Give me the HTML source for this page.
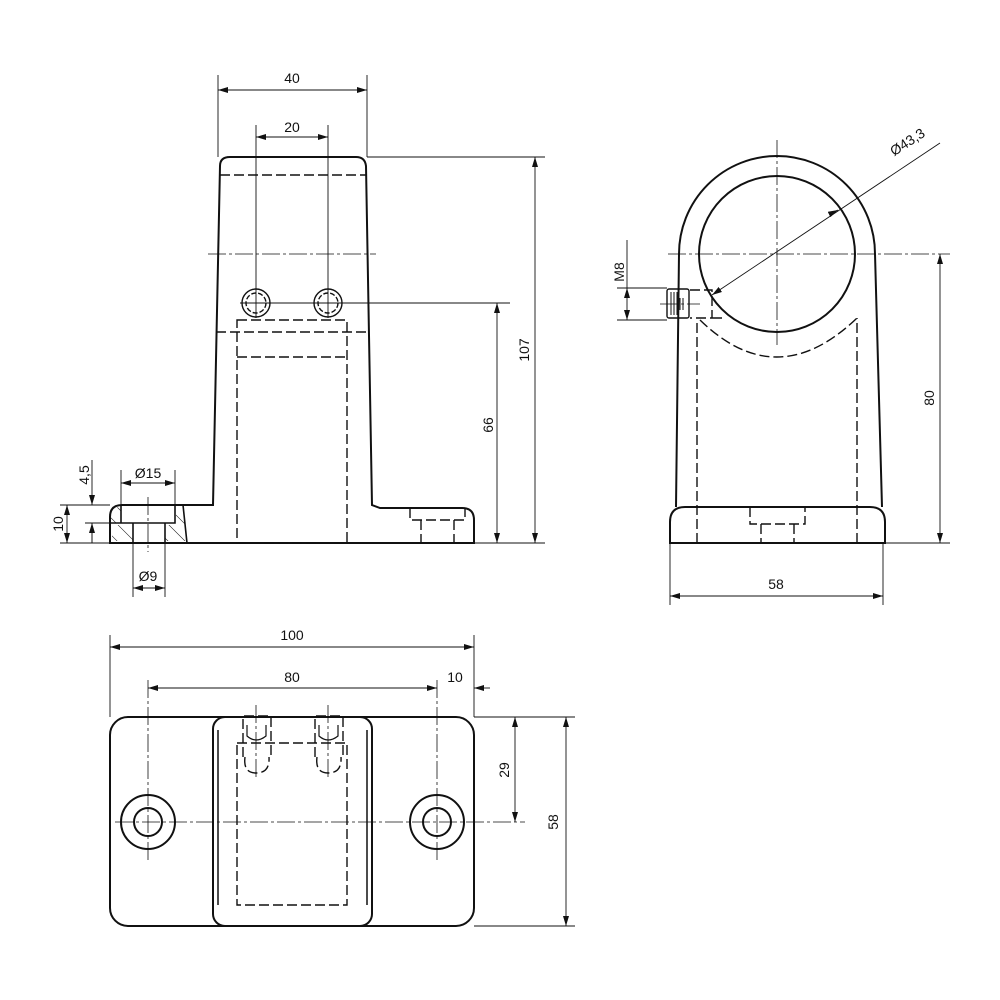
<!DOCTYPE html>
<html><head><meta charset="utf-8"><style>body{margin:0;background:#fff}svg{display:block}text{font-family:"Liberation Sans",sans-serif;font-size:14px;fill:#111}</style></head><body>
<svg width="1000" height="1000" viewBox="0 0 1000 1000" xmlns="http://www.w3.org/2000/svg">
<defs>
<marker id="a" viewBox="0 0 10 6" refX="10" refY="3" markerWidth="10" markerHeight="6" orient="auto-start-reverse" markerUnits="userSpaceOnUse"><path d="M0,0L10,3L0,6z" fill="#111"/></marker>
<pattern id="h" width="12" height="12" patternUnits="userSpaceOnUse" patternTransform="rotate(-45)"><line x1="0" y1="0" x2="0" y2="12" stroke="#111" stroke-width="1"/></pattern>
</defs>
<g fill="none" stroke="#111">
<!-- FRONT VIEW -->
<g stroke-width="2">
<path d="M213,505 L220,166 Q220,157 230,157 L356,157 Q365,157 366,166 L372,505 L380,508 L462,508 Q474,508 474,520 L474,543 L110,543 L110,517 Q110,505 122,505 L213,505 Z"/>
</g>
<path d="M110,523 L121,523 L121,505 M183,505 L187,543 M133,523 L133,543 M165,523 L165,543 M121,523 L175,523 L175,505" stroke-width="1.6"/>
<path d="M110,523 L121,523 L121,505 L110,512 Z" fill="url(#h)" stroke="none"/>
<path d="M112,525 L133,525 L133,541 L112,541Z" fill="url(#h)" stroke="none"/>
<path d="M165,525 L175,525 L177,506 L183,506 L186,541 L165,541Z" fill="url(#h)" stroke="none"/>
<g stroke-width="1.4" stroke-dasharray="10,4">
<line x1="220" y1="175" x2="366" y2="175"/>
<line x1="216" y1="332" x2="368" y2="332"/>
<rect x="237" y="320" width="110" height="223"/>
<line x1="237" y1="357" x2="347" y2="357"/>
<path d="M410,508 L410,520 L465,520 L465,508 M421,520 L421,543 M454,520 L454,543"/>
</g>
<g stroke-width="0.8" stroke-dasharray="18,3,3,3">
<line x1="208" y1="254" x2="376" y2="254"/>
<line x1="148" y1="497" x2="148" y2="552"/>
</g>
<g stroke-width="1.4">
<circle cx="256" cy="303" r="14"/><circle cx="256" cy="303" r="10" stroke-dasharray="5,2"/>
<circle cx="328" cy="303" r="14"/><circle cx="328" cy="303" r="10" stroke-dasharray="5,2"/>
</g>
<g stroke-width="0.9">
<line x1="218" y1="75" x2="218" y2="157"/><line x1="367" y1="75" x2="367" y2="157"/>
<line x1="218" y1="90" x2="367" y2="90" marker-start="url(#a)" marker-end="url(#a)"/>
<line x1="256" y1="125" x2="256" y2="318"/><line x1="328" y1="125" x2="328" y2="318"/>
<line x1="256" y1="137" x2="328" y2="137" marker-start="url(#a)" marker-end="url(#a)"/>
<line x1="367" y1="157" x2="545" y2="157"/><line x1="474" y1="543" x2="545" y2="543"/>
<line x1="535" y1="157" x2="535" y2="543" marker-start="url(#a)" marker-end="url(#a)"/>
<line x1="240" y1="303" x2="510" y2="303"/>
<line x1="497" y1="303" x2="497" y2="543" marker-start="url(#a)" marker-end="url(#a)"/>
<line x1="60" y1="505" x2="110" y2="505"/><line x1="60" y1="543" x2="110" y2="543"/>
<line x1="85" y1="523" x2="121" y2="523"/>
<line x1="67" y1="505" x2="67" y2="543" marker-start="url(#a)" marker-end="url(#a)"/>
<line x1="92" y1="460" x2="92" y2="505" marker-end="url(#a)"/>
<line x1="92" y1="523" x2="92" y2="543"/>
<line x1="92" y1="543" x2="92" y2="523" marker-end="url(#a)"/>
<line x1="121" y1="470" x2="121" y2="505"/><line x1="175" y1="470" x2="175" y2="505"/>
<line x1="121" y1="483" x2="175" y2="483" marker-start="url(#a)" marker-end="url(#a)"/>
<line x1="133" y1="543" x2="133" y2="597"/><line x1="165" y1="543" x2="165" y2="597"/>
<line x1="133" y1="588" x2="165" y2="588" marker-start="url(#a)" marker-end="url(#a)"/>
</g>
<!-- SIDE VIEW -->
<g stroke-width="2">
<path d="M676,507 L679,254 A98,98 0 0 1 875,254 L882,507"/>
<circle cx="777" cy="254" r="78"/>
<path d="M670,543 L670,522 Q670,507 685,507 L870,507 Q885,507 885,522 L885,543 Z"/>
</g>
<g stroke-width="1.4" stroke-dasharray="10,4">
<path d="M697,543 L697,320 M857,543 L857,318"/>
<path d="M700,320 Q777,395 857,318"/>
<path d="M750,507 L750,524 L805,524 L805,507 M761,524 L761,543 M794,524 L794,543"/>
<path d="M690,290 L712,290 L712,318 L690,318 M712,318 L725,318"/>
</g>
<rect x="667" y="289" width="22" height="29" rx="2" stroke-width="1.4"/>
<path d="M671,292 v23 M674,292 v23 M677,292 v23 M680,298 v12 M683,298 v12" stroke-width="1"/>
<g stroke-width="0.8" stroke-dasharray="18,3,3,3">
<line x1="777" y1="140" x2="777" y2="345"/>
<line x1="668" y1="254" x2="950" y2="254"/>
<line x1="660" y1="304" x2="700" y2="304"/>
</g>
<g stroke-width="0.9">
<line x1="940" y1="143" x2="712" y2="295" marker-end="url(#a)"/>
<line x1="834" y1="212" x2="838" y2="210" marker-end="url(#a)"/>
<line x1="940" y1="254" x2="940" y2="543" marker-start="url(#a)" marker-end="url(#a)"/>
<line x1="885" y1="543" x2="950" y2="543"/>
<line x1="670" y1="543" x2="670" y2="605"/><line x1="883" y1="543" x2="883" y2="605"/>
<line x1="670" y1="596" x2="883" y2="596" marker-start="url(#a)" marker-end="url(#a)"/>
<line x1="617" y1="288" x2="667" y2="288"/><line x1="617" y1="320" x2="667" y2="320"/>
<line x1="627" y1="288" x2="627" y2="320" marker-start="url(#a)" marker-end="url(#a)"/>
<line x1="627" y1="240" x2="627" y2="288"/>
</g>
<!-- BOTTOM VIEW -->
<g stroke-width="2">
<rect x="110" y="717" width="364" height="209" rx="18"/>
<rect x="213" y="717" width="159" height="209" rx="12"/>
<path d="M218,730 L218,905 M367,730 L367,905" stroke-width="1.5"/>
<circle cx="148" cy="822" r="27"/><circle cx="148" cy="822" r="14"/>
<circle cx="437" cy="822" r="27"/><circle cx="437" cy="822" r="14"/>
</g>
<g stroke-width="1.4" stroke-dasharray="10,4">
<rect x="237" y="743" width="110" height="162"/>
<path d="M243,757 L243,716 L271,716 L271,757 M315,757 L315,716 L343,716 L343,757"/>
<path d="M245,757 Q243,773 256,773 Q270,773 269,757 M317,757 Q315,773 328,773 Q342,773 341,757"/>
</g>
<path d="M247,725 L247,736 Q256,744 266,736 L266,725 M319,725 L319,736 Q328,744 338,736 L338,725" stroke-width="1.2"/>
<g stroke-width="0.8" stroke-dasharray="18,3,3,3">
<line x1="148" y1="680" x2="148" y2="860"/><line x1="437" y1="680" x2="437" y2="860"/>
<line x1="115" y1="822" x2="525" y2="822"/>
<line x1="256" y1="705" x2="256" y2="780"/><line x1="328" y1="705" x2="328" y2="780"/>
</g>
<g stroke-width="0.9">
<line x1="110" y1="635" x2="110" y2="717"/><line x1="474" y1="635" x2="474" y2="717"/>
<line x1="110" y1="647" x2="474" y2="647" marker-start="url(#a)" marker-end="url(#a)"/>
<line x1="148" y1="688" x2="437" y2="688" marker-start="url(#a)" marker-end="url(#a)"/>
<line x1="427" y1="688" x2="437" y2="688"/>
<line x1="490" y1="688" x2="474" y2="688" marker-end="url(#a)"/>
<line x1="474" y1="717" x2="575" y2="717"/><line x1="474" y1="926" x2="575" y2="926"/>
<line x1="515" y1="717" x2="515" y2="822" marker-start="url(#a)" marker-end="url(#a)"/>
<line x1="566" y1="717" x2="566" y2="926" marker-start="url(#a)" marker-end="url(#a)"/>
</g>
</g>
<text x="292" y="83" text-anchor="middle">40</text>
<text x="292" y="132" text-anchor="middle">20</text>
<text transform="translate(529,350) rotate(-90)" text-anchor="middle">107</text>
<text transform="translate(493,425) rotate(-90)" text-anchor="middle">66</text>
<text transform="translate(89,475) rotate(-90)" text-anchor="middle">4,5</text>
<text transform="translate(63,524) rotate(-90)" text-anchor="middle">10</text>
<text x="148" y="478" text-anchor="middle">Ø15</text>
<text x="148" y="581" text-anchor="middle">Ø9</text>
<text transform="translate(910,146) rotate(-33)" text-anchor="middle">Ø43,3</text>
<text transform="translate(624,272) rotate(-90)" text-anchor="middle">M8</text>
<text transform="translate(934,398) rotate(-90)" text-anchor="middle">80</text>
<text x="776" y="589" text-anchor="middle">58</text>
<text x="292" y="640" text-anchor="middle">100</text>
<text x="292" y="682" text-anchor="middle">80</text>
<text x="455" y="682" text-anchor="middle">10</text>
<text transform="translate(509,770) rotate(-90)" text-anchor="middle">29</text>
<text transform="translate(558,822) rotate(-90)" text-anchor="middle">58</text>
</svg>
</body></html>
